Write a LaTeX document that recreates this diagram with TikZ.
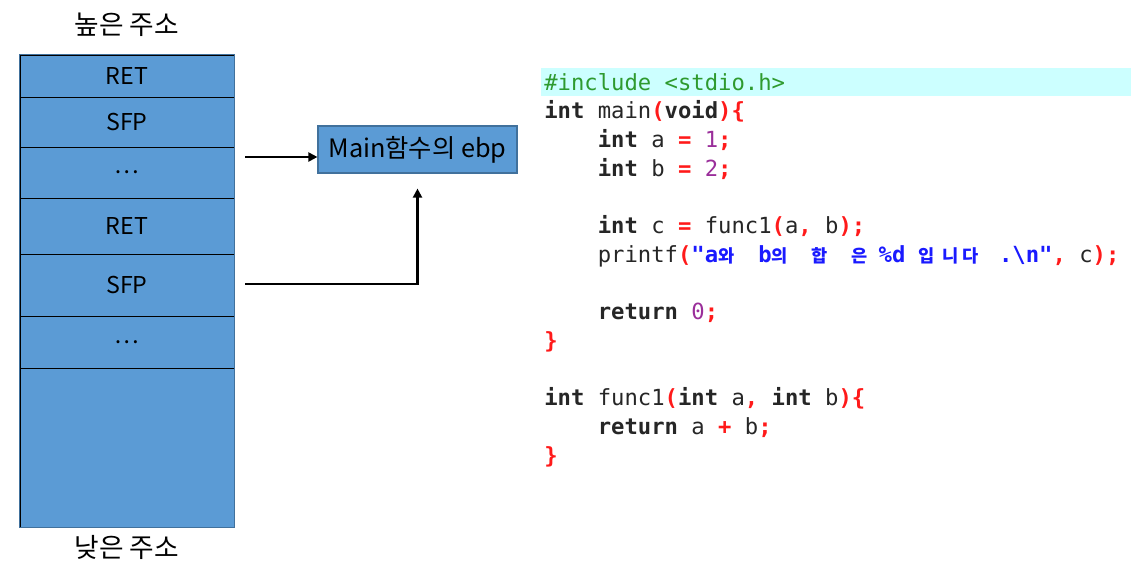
\documentclass[tikz,border=0pt]{standalone}
\usepackage{fontspec}
\usepackage{xcolor}
\usepackage{tikz}
\usetikzlibrary{arrows.meta, positioning}
\setmainfont{Noto Sans CJK KR}
\setmonofont{DejaVu Sans Mono}
\newfontfamily\krfont{Noto Sans CJK KR}
\definecolor{stackblue}{HTML}{5B9BD5}
\definecolor{stackedge}{HTML}{41719C}
\definecolor{bandcyan}{HTML}{CCFFFF}
\definecolor{incgreen}{HTML}{2E9A2E}
\definecolor{opred}{HTML}{FF1A1A}
\definecolor{numpurple}{HTML}{9A2E9A}
\definecolor{strblue}{HTML}{1A1AFF}
\definecolor{codeink}{HTML}{262626}
\newlength{\cw}
\setlength{\cw}{9.51pt}
\newcommand{\kw}[1]{\textbf{#1}}
\newcommand{\op}[1]{\textcolor{opred}{\textbf{#1}}}
\newcommand{\nm}[1]{\textcolor{numpurple}{#1}}
\newcommand{\hg}[1]{\makebox[\cw][l]{\krfont\fontsize{12.5pt}{12.5pt}\selectfont\bfseries #1}}
\newcommand{\sk}[1]{\hspace*{#1\cw}}

\begin{document}
\begin{tikzpicture}[x=0.025cm, y=-0.025cm,
    cell/.style={rectangle, draw=black, line width=0.5pt, fill=stackblue, minimum width=5.35cm, inner sep=0pt, font=\fontsize{16.5pt}{19pt}\selectfont},
    addr/.style={font=\fontsize{19pt}{22pt}\selectfont},
    frame/.style={draw=stackedge, line width=0.8pt, fill=stackblue},
    code/.style={anchor=base west, inner sep=0pt, text=codeink, font=\fontsize{15.8pt}{19pt}\selectfont\ttfamily},
    arr/.style={-{Triangle[length=6.5pt, width=6.5pt]}, line width=1.5pt}]
    \useasboundingbox (0,0) rectangle (1136,573);
    % stack
    \node[cell, minimum height=1.05cm] (ret1) at (127,76) {RET};
    \node[cell, minimum height=1.25cm] (sfp1) at (127,122) {SFP};
    \node[cell, minimum height=1.275cm] (dots1) at (127,172.5) {\ldots};
    \node[cell, minimum height=1.4cm] (ret2) at (127,226) {RET};
    \node[cell, minimum height=1.55cm] (sfp2) at (127,285) {SFP};
    \node[cell, minimum height=1.3cm] (dots2) at (127,342) {\ldots};
    \node[cell, minimum height=3.975cm] (rest) at (127,447.5) {};
    \draw[stackedge, line width=0.8pt] (ret1.north west) rectangle (rest.south east);
    \node[addr] (high) at (127,25) {높은 주소};
    \node[addr] (low) at (127,547) {낮은 주소};
    % saved ebp
    \node[frame, minimum width=4.975cm, minimum height=1.175cm, font=\fontsize{18pt}{21pt}\selectfont] (mainebp) at (417.5,149.5) {Main함수의 ebp};
    \coordinate (from1) at (245,157);
    \coordinate (from2) at (245,284);
    \draw[arr] (from1) -- (from1 -| mainebp.west);
    \draw[arr, shorten >=0.375cm] (from2) -| (mainebp.south);
    % source code
    \fill[bandcyan] (541,68) rectangle (1131,96);
    \node[code] (l0) at (544,90) {\textcolor{incgreen}{\#include <stdio.h>}};
    \node[code] (l1) at (544,118.7) {\kw{int} main\op{(}\kw{void}\op{)\{}};
    \node[code] (l2) at (597.5,147.4) {\kw{int} a \op{=} \nm{1}\op{;}};
    \node[code] (l3) at (597.5,176.1) {\kw{int} b \op{=} \nm{2}\op{;}};
    \node[code] (l5) at (597.5,233.5) {\kw{int} c \op{=} func1\op{(}a\op{,} b\op{);}};
    \node[code] (l6) at (597.5,262.2) {printf\op{(}\textcolor{strblue}{\textbf{"a\hg{와}\sk{2}b\hg{의}\sk{2}\hg{합}\sk{2}\hg{은}\sk{1}\%d\sk{1}\hg{입}\sk{0.8}\hg{니}\sk{0.5}\hg{다}\sk{1.7}.\textbackslash n"}}\op{,}\sk{1}c\op{);}};
    \node[code] (l8) at (597.5,319.6) {\kw{return} \nm{0}\op{;}};
    \node[code] (l9) at (544,348.3) {\op{\}}};
    \node[code] (l11) at (544,405.7) {\kw{int} func1\op{(}\kw{int} a\op{,} \kw{int} b\op{)\{}};
    \node[code] (l12) at (597.5,434.4) {\kw{return} a \op{+} b\op{;}};
    \node[code] (l13) at (544,463.1) {\op{\}}};
  \end{tikzpicture}
\end{document}
